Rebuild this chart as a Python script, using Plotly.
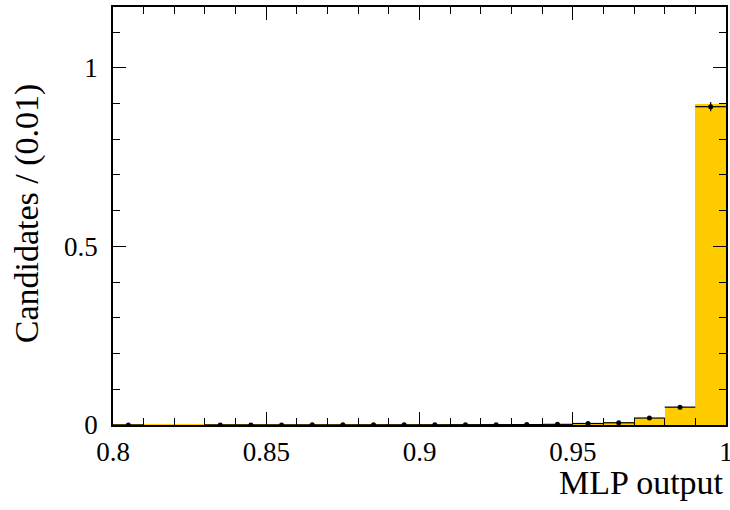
import plotly.graph_objects as go

# Bin centres of the MLP output histogram (bin width 0.01)
bin_centres = [0.805, 0.815, 0.825, 0.835, 0.845, 0.855, 0.865, 0.875, 0.885, 0.895,
               0.905, 0.915, 0.925, 0.935, 0.945, 0.955, 0.965, 0.975, 0.985, 0.995]

# Simulated (filled) distribution, normalised
sim_values = [0.0004, 0.0005, 0.0005, 0.0005, 0.0006, 0.0006, 0.0007, 0.0007, 0.0008, 0.0009,
              0.0010, 0.0012, 0.0014, 0.0017, 0.0022, 0.0045, 0.0080, 0.0195, 0.0495, 0.8990]

# Data points (None where the bin is empty) and their errors
data_values = [0.0002, None, None, 0.0003, 0.0003, 0.0003, 0.0004, 0.0004, 0.0005, 0.0005,
               0.0006, 0.0008, 0.0010, 0.0012, 0.0018, 0.0042, 0.0062, 0.0195, 0.0500, 0.8910]
data_errors = [0.0003, 0.0, 0.0, 0.0004, 0.0004, 0.0004, 0.0005, 0.0005, 0.0005, 0.0005,
               0.0006, 0.0007, 0.0008, 0.0009, 0.0011, 0.0016, 0.0020, 0.0035, 0.0060, 0.0130]

x_tick_vals = [0.8, 0.85, 0.9, 0.95, 1.0]
x_tick_text = ["0.8", "0.85", "0.9", "0.95", "1"]
y_tick_vals = [0, 0.5, 1]
y_tick_text = ["0", "0.5", "1"]

bin_width = 0.01

fig = go.Figure()

fig.add_trace(go.Bar(
    x=bin_centres, y=sim_values, width=bin_width,
    marker=dict(color="#ffcc00", line=dict(width=0)),
    showlegend=False,
))

fig.add_trace(go.Scatter(
    x=bin_centres, y=data_values, mode="markers",
    marker=dict(color="black", size=5),
    error_y=dict(type="data", array=data_errors, color="black", thickness=1.2, width=0),
    error_x=dict(type="constant", value=bin_width / 2, color="black", thickness=1.2, width=0),
    showlegend=False,
))

serif = "Liberation Serif"

fig.update_layout(
    width=730, height=510,
    margin=dict(l=113, r=4, t=7, b=85),
    paper_bgcolor="white", plot_bgcolor="white",
    bargap=0,
    font=dict(family=serif, color="black", size=27),
    xaxis=dict(
        range=[0.8, 1.0], tickvals=x_tick_vals, ticktext=x_tick_text,
        ticks="inside", ticklen=13, tickwidth=1, tickcolor="black",
        minor=dict(dtick=0.01, tick0=0.8, ticks="inside", ticklen=7, tickcolor="black"),
        showline=True, linecolor="black", linewidth=1.5, mirror="allticks",
        showgrid=False, zeroline=False, automargin=False,
        ticklabeloverflow="allow", ticklabelstandoff=2,
        tickfont=dict(family=serif, size=27),
    ),
    yaxis=dict(
        range=[0, 1.17], tickvals=y_tick_vals, ticktext=y_tick_text,
        ticks="inside", ticklen=13, tickwidth=1, tickcolor="black",
        minor=dict(dtick=0.1, tick0=0, ticks="inside", ticklen=7, tickcolor="black"),
        showline=True, linecolor="black", linewidth=1.5, mirror="allticks",
        showgrid=False, zeroline=False, automargin=False,
        ticklabelstandoff=8,
        tickfont=dict(family=serif, size=27),
    ),
    annotations=[
        dict(text="MLP output", xref="paper", yref="paper", x=1.0, y=-0.089,
             xanchor="right", yanchor="top", showarrow=False,
             font=dict(family=serif, size=34)),
        dict(text="Candidates / (0.01)", xref="paper", yref="paper", x=-0.14, y=0.507,
             xanchor="center", yanchor="middle", textangle=-90, showarrow=False,
             font=dict(family=serif, size=34)),
    ],
)

fig.write_html("out.html")
